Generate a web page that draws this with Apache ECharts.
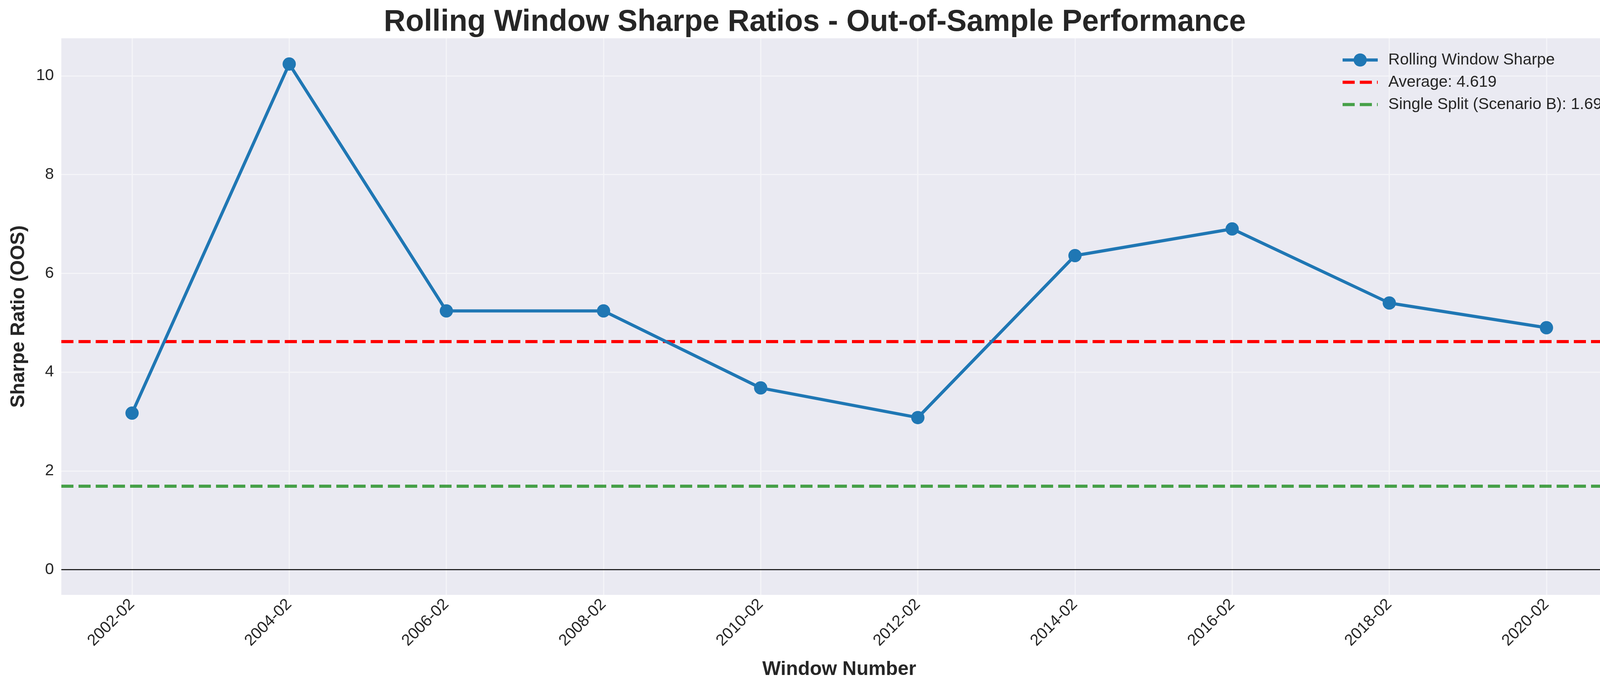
<!DOCTYPE html>
<html>
<head>
<meta charset="utf-8">
<script src="https://cdn.jsdelivr.net/npm/echarts@6/dist/echarts.min.js"></script>
<style>
  html, body { margin: 0; padding: 0; background: #fff; overflow: hidden; }
  #main { width: 4172px; height: 1768px; }
</style>
</head>
<body>
<div id="main"></div>
<script>
var chartDom = document.getElementById('main');
var myChart = echarts.init(chartDom);
var option;

// windows (x tick labels)
const windows = ['2002-02', '2004-02', '2006-02', '2008-02', '2010-02',
  '2012-02', '2014-02', '2016-02', '2018-02', '2020-02'];
// out-of-sample sharpe per window
const sharpe = [3.17, 10.24, 5.24, 5.24, 3.68, 3.08, 6.36, 6.90, 5.40, 4.90];
const averageSharpe = 4.619;
const singleSplitSharpe = 1.69;
const yTicks = [0, 2, 4, 6, 8, 10];

const xIdx = windows.map((w, i) => i);
const lineData = sharpe.map((v, i) => [i, v]);

const textColor = '#262626';
const font = 'Liberation Sans, Arial, Helvetica, sans-serif';
const dash = [31, 13];
const green = 'rgba(0,128,0,0.7)';

option = {
  backgroundColor: '#ffffff',
  animation: false,
  title: {
    text: 'Rolling Window Sharpe Ratios - Out-of-Sample Performance',
    left: 'center',
    top: 14,
    textStyle: { fontFamily: font, fontSize: 77, fontWeight: 'bold', color: textColor }
  },
  legend: {
    right: 66,
    top: 128,
    orient: 'vertical',
    itemWidth: 90,
    itemHeight: 42,
    itemGap: 16,
    lineStyle: { width: 'inherit', type: 'inherit' },
    textStyle: { fontFamily: font, fontSize: 41, color: textColor, padding: [0, 0, 0, 22] },
    data: ['Rolling Window Sharpe', 'Average: ' + averageSharpe, 'Single Split (Scenario B): ' + singleSplitSharpe]
  },
  grid: {
    left: 157,
    right: 32,
    top: 98,
    bottom: 246,
    show: true,
    backgroundColor: '#EAEAF2',
    borderWidth: 0
  },
  xAxis: {
    type: 'value',
    min: -0.45,
    max: 9.45,
    name: 'Window Number',
    nameLocation: 'middle',
    nameGap: 166,
    nameTextStyle: { fontFamily: font, fontSize: 50, fontWeight: 'bold', color: textColor },
    axisLine: { show: false },
    axisTick: { show: false, customValues: xIdx },
    splitLine: { show: true, lineStyle: { color: '#f4f4f8', width: 3 } },
    axisLabel: {
      customValues: xIdx,
      rotate: 45,
      margin: 18,
      fontFamily: font,
      fontSize: 41,
      color: textColor,
      formatter: function (v) { return windows[Math.round(v)]; }
    }
  },
  yAxis: {
    type: 'value',
    min: -0.51,
    max: 10.76,
    name: 'Sharpe Ratio (OOS)',
    nameLocation: 'middle',
    nameGap: 84,
    nameTextStyle: { fontFamily: font, fontSize: 50, fontWeight: 'bold', color: textColor },
    axisLine: { show: false },
    axisTick: { show: false, customValues: yTicks },
    splitLine: { show: true, lineStyle: { color: '#f4f4f8', width: 3 } },
    axisLabel: {
      customValues: yTicks,
      margin: 19,
      fontFamily: font,
      fontSize: 41,
      color: textColor
    }
  },
  series: [
    {
      name: 'Rolling Window Sharpe',
      type: 'line',
      data: lineData,
      symbol: 'circle',
      symbolSize: 34,
      z: 5,
      lineStyle: { color: '#1f77b4', width: 8 },
      itemStyle: { color: '#1f77b4' },
      markLine: {
        silent: true,
        symbol: 'none',
        label: { show: false },
        lineStyle: { color: '#000000', width: 2.5, type: 'solid' },
        data: [{ yAxis: 0 }]
      }
    },
    {
      name: 'Average: ' + averageSharpe,
      type: 'line',
      data: [],
      symbol: 'none',
      z: 6,
      lineStyle: { color: '#ff0000', width: 8, type: dash },
      itemStyle: { color: 'rgba(0,0,0,0)' },
      markLine: {
        silent: true,
        symbol: 'none',
        label: { show: false },
        lineStyle: { color: '#ff0000', width: 8, type: dash },
        data: [{ yAxis: averageSharpe }]
      }
    },
    {
      name: 'Single Split (Scenario B): ' + singleSplitSharpe,
      type: 'line',
      data: [],
      symbol: 'none',
      z: 6,
      lineStyle: { color: green, width: 8, type: dash },
      itemStyle: { color: 'rgba(0,0,0,0)' },
      markLine: {
        silent: true,
        symbol: 'none',
        label: { show: false },
        lineStyle: { color: green, width: 8, type: dash },
        data: [{ yAxis: singleSplitSharpe }]
      }
    }
  ]
};

option && myChart.setOption(option);
</script>
</body>
</html>
